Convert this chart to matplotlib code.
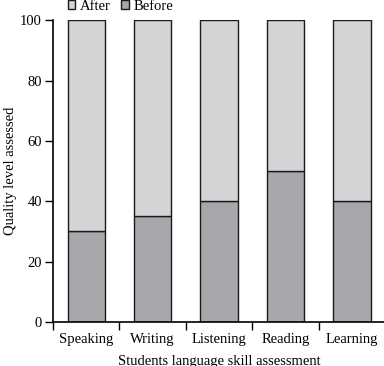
import matplotlib
matplotlib.use("Agg")
import matplotlib.pyplot as plt
import numpy as np

categories = ["Speaking", "Writing", "Listening", "Reading", "Learning"]
before = [30, 35, 40, 50, 40]
after = [70, 65, 60, 50, 60]

plt.rcParams['font.family'] = ['Liberation Serif', 'DejaVu Serif']

fig = plt.figure(figsize=(3.84, 3.66), dpi=100)
ax = fig.add_axes([0.138, 0.12, 0.865, 0.825])

x = np.arange(len(categories)) + 0.5
w = 0.56
c_before = "#a7a8ab"
c_after = "#d4d4d6"
ax.bar(x, before, w, color=c_before, edgecolor="#1a1a1a", linewidth=1.0, label="Before")
ax.bar(x, after, w, bottom=before, color=c_after, edgecolor="#1a1a1a", linewidth=1.0, label="After")

ax.set_xlim(0, 5)
ax.set_ylim(0, 100)
ax.set_yticks([0, 20, 40, 60, 80, 100])
ax.set_xticks(np.arange(0, 6), minor=False)
ax.set_xticklabels([])
ax.set_xticks(x, minor=True)
ax.set_xticklabels(categories, minor=True)
ax.tick_params(axis='x', which='minor', length=0, pad=8, labelsize=10.5)
ax.tick_params(axis='x', which='major', length=6, direction='out', width=1)
ax.tick_params(axis='y', length=6, direction='out', width=1, labelsize=10.5, pad=2)
for s in ["top", "right"]:
    ax.spines[s].set_visible(False)
ax.spines["left"].set_linewidth(1.2)
ax.spines["bottom"].set_linewidth(1.2)

ax.set_xlabel("Students language skill assessment", fontsize=10.5, labelpad=6)
ax.set_ylabel("Quality level assessed", fontsize=10.5, labelpad=2)

h, l = ax.get_legend_handles_labels()
leg = ax.legend(h[::-1], l[::-1], loc="lower left", bbox_to_anchor=(0.045, 1.025), ncol=2,
                frameon=False, fontsize=10.5, handlelength=0.5, handleheight=0.5,
                handletextpad=0.35, columnspacing=0.7, borderaxespad=0, borderpad=0)

fig.savefig("out.png", dpi=100)
